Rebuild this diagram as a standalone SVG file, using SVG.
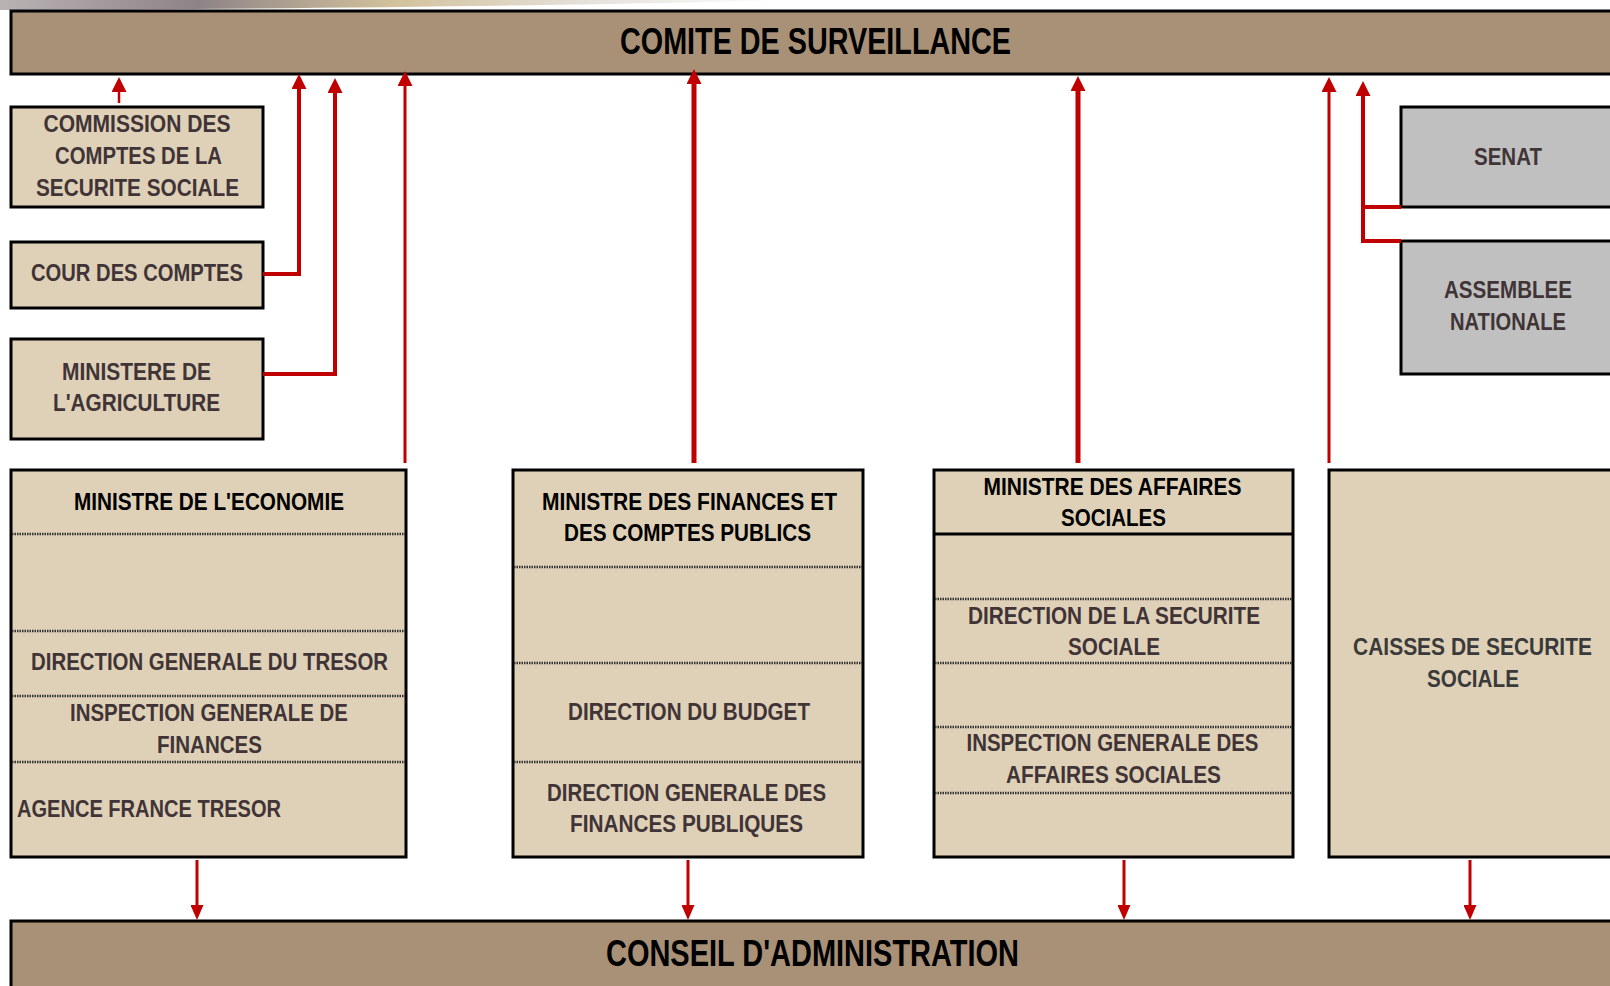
<svg xmlns="http://www.w3.org/2000/svg" width="1610" height="986" viewBox="0 0 1610 986">
<defs>
<linearGradient id="swoosh" x1="0" y1="0" x2="1" y2="0">
<stop offset="0" stop-color="#b9b3b4"/>
<stop offset="0.25" stop-color="#8e8386"/>
<stop offset="0.5" stop-color="#d2c29c"/>
<stop offset="0.75" stop-color="#e6e2dc"/>
<stop offset="1" stop-color="#ffffff"/>
</linearGradient>
<marker id="ah" viewBox="0 0 15 15" refX="0" refY="7.5" markerUnits="userSpaceOnUse" markerWidth="15" markerHeight="15" orient="auto">
<path d="M0,0 L15,7.5 L0,15 z" fill="#C00000"/>
</marker>
<marker id="ahd" viewBox="0 0 15 13" refX="0" refY="6.5" markerUnits="userSpaceOnUse" markerWidth="15" markerHeight="13" orient="auto">
<path d="M0,0 L15,6.5 L0,13 z" fill="#C00000"/>
</marker>
</defs>
<style>
.bar{fill:#A89177;stroke:#000;stroke-width:3}
.box{fill:#DFD1B8;stroke:#000;stroke-width:3}
.gbox{fill:#C0C0C0;stroke:#000;stroke-width:3}
.div{stroke:#333;stroke-width:2.5;stroke-dasharray:1.5 1}
.sol{stroke:#000;stroke-width:3}
text{font-family:"Liberation Sans",Arial,sans-serif;font-weight:bold;text-anchor:middle}
.t{font-size:23px;fill:#413437}
.h{font-size:23px;fill:#000}
.c{font-size:23px;fill:#3a3a3a}
.title{font-size:36px;fill:#000}
.cn path{fill:none;stroke:#C00000}
</style>
<rect width="1610" height="986" fill="#fff"/>
<path d="M0,0 H790 C600,5 300,9 0,10 Z" fill="url(#swoosh)"/>

<g id="comite">
<rect class="bar" x="11" y="11" width="1620" height="63"/>
<text class="title" x="815.5" y="54" textLength="391" lengthAdjust="spacingAndGlyphs">COMITE DE SURVEILLANCE</text>
</g>

<g id="conseil">
<rect class="bar" x="11" y="921" width="1620" height="90"/>
<text class="title" x="812.5" y="966" textLength="413" lengthAdjust="spacingAndGlyphs">CONSEIL D'ADMINISTRATION</text>
</g>

<g id="commission">
<rect class="box" x="11" y="107" width="252" height="100"/>
<text class="t" x="137" y="132" textLength="187" lengthAdjust="spacingAndGlyphs">COMMISSION DES</text>
<text class="t" x="138.5" y="164" textLength="167" lengthAdjust="spacingAndGlyphs">COMPTES DE LA</text>
<text class="t" x="137.5" y="196" textLength="203" lengthAdjust="spacingAndGlyphs">SECURITE SOCIALE</text>
</g>

<g id="cour">
<rect class="box" x="11" y="242" width="252" height="66"/>
<text class="t" x="137" y="281" textLength="212" lengthAdjust="spacingAndGlyphs">COUR DES COMPTES</text>
</g>

<g id="agriculture">
<rect class="box" x="11" y="339" width="252" height="100"/>
<text class="t" x="136.5" y="380" textLength="149" lengthAdjust="spacingAndGlyphs">MINISTERE DE</text>
<text class="t" x="136.5" y="411" textLength="167" lengthAdjust="spacingAndGlyphs">L'AGRICULTURE</text>
</g>

<g id="senat">
<rect class="gbox" x="1401" y="107" width="230" height="100"/>
<text class="t" x="1508" y="165" textLength="68" lengthAdjust="spacingAndGlyphs">SENAT</text>
</g>

<g id="assemblee">
<rect class="gbox" x="1401" y="241" width="230" height="133"/>
<text class="t" x="1508" y="298" textLength="128" lengthAdjust="spacingAndGlyphs">ASSEMBLEE</text>
<text class="t" x="1508" y="330" textLength="116" lengthAdjust="spacingAndGlyphs">NATIONALE</text>
</g>

<g id="economie">
<rect class="box" x="11" y="470" width="395" height="387"/>
<line class="div" x1="12" y1="534" x2="405" y2="534"/>
<line class="div" x1="12" y1="631" x2="405" y2="631"/>
<line class="div" x1="12" y1="696" x2="405" y2="696"/>
<line class="div" x1="12" y1="762" x2="405" y2="762"/>
<text class="h" x="209" y="510" textLength="270" lengthAdjust="spacingAndGlyphs">MINISTRE DE L'ECONOMIE</text>
<text class="t" x="209.5" y="670" textLength="357" lengthAdjust="spacingAndGlyphs">DIRECTION GENERALE DU TRESOR</text>
<text class="t" x="209" y="721" textLength="278" lengthAdjust="spacingAndGlyphs">INSPECTION GENERALE DE</text>
<text class="t" x="209.5" y="753" textLength="105" lengthAdjust="spacingAndGlyphs">FINANCES</text>
<text class="t" x="17" y="817" style="text-anchor:start" textLength="264" lengthAdjust="spacingAndGlyphs">AGENCE FRANCE TRESOR</text>
</g>

<g id="finances">
<rect class="box" x="513" y="470" width="350" height="387"/>
<line class="div" x1="514" y1="567" x2="862" y2="567"/>
<line class="div" x1="514" y1="663" x2="862" y2="663"/>
<line class="div" x1="514" y1="762" x2="862" y2="762"/>
<text class="h" x="689.5" y="510" textLength="295" lengthAdjust="spacingAndGlyphs">MINISTRE DES FINANCES ET</text>
<text class="h" x="687.5" y="541" textLength="247" lengthAdjust="spacingAndGlyphs">DES COMPTES PUBLICS</text>
<text class="t" x="689" y="720" textLength="242" lengthAdjust="spacingAndGlyphs">DIRECTION DU BUDGET</text>
<text class="t" x="686.5" y="801" textLength="279" lengthAdjust="spacingAndGlyphs">DIRECTION GENERALE DES</text>
<text class="t" x="686.5" y="832" textLength="233" lengthAdjust="spacingAndGlyphs">FINANCES PUBLIQUES</text>
</g>

<g id="affaires">
<rect class="box" x="934" y="470" width="359" height="387"/>
<line class="sol" x1="935" y1="534" x2="1292" y2="534"/>
<line class="div" x1="935" y1="599" x2="1292" y2="599"/>
<line class="div" x1="935" y1="663" x2="1292" y2="663"/>
<line class="div" x1="935" y1="727" x2="1292" y2="727"/>
<line class="div" x1="935" y1="793" x2="1292" y2="793"/>
<text class="h" x="1112.5" y="495" textLength="258" lengthAdjust="spacingAndGlyphs">MINISTRE DES AFFAIRES</text>
<text class="h" x="1113.5" y="526" textLength="105" lengthAdjust="spacingAndGlyphs">SOCIALES</text>
<text class="t" x="1114" y="624" textLength="292" lengthAdjust="spacingAndGlyphs">DIRECTION DE LA SECURITE</text>
<text class="t" x="1114" y="655" textLength="92" lengthAdjust="spacingAndGlyphs">SOCIALE</text>
<text class="t" x="1112.5" y="751" textLength="292" lengthAdjust="spacingAndGlyphs">INSPECTION GENERALE DES</text>
<text class="t" x="1113.5" y="783" textLength="215" lengthAdjust="spacingAndGlyphs">AFFAIRES SOCIALES</text>
</g>

<g id="caisses">
<rect class="box" x="1329" y="470" width="300" height="387"/>
<text class="c" x="1472.5" y="655" textLength="239" lengthAdjust="spacingAndGlyphs">CAISSES DE SECURITE</text>
<text class="c" x="1473" y="687" textLength="92" lengthAdjust="spacingAndGlyphs">SOCIALE</text>
</g>

<g id="connectors" class="cn">
<path d="M119,103 V92" stroke-width="2.5" marker-end="url(#ah)"/>
<path d="M263,274 H299 V89" stroke-width="4" marker-end="url(#ah)"/>
<path d="M263,374 H335 V93" stroke-width="4" marker-end="url(#ah)"/>
<path d="M405,463 V86" stroke-width="3" marker-end="url(#ah)"/>
<path d="M694,463 V84" stroke-width="5" marker-end="url(#ah)"/>
<path d="M1078,463 V91" stroke-width="5" marker-end="url(#ah)"/>
<path d="M1329,463 V92" stroke-width="3" marker-end="url(#ah)"/>
<path d="M1401,207 H1363" stroke-width="4"/>
<path d="M1401,241 H1363 V96" stroke-width="4" marker-end="url(#ah)"/>
<path d="M197,860 V905" stroke-width="3" marker-end="url(#ahd)"/>
<path d="M688,860 V905" stroke-width="3" marker-end="url(#ahd)"/>
<path d="M1124,860 V905" stroke-width="3" marker-end="url(#ahd)"/>
<path d="M1470,860 V905" stroke-width="3" marker-end="url(#ahd)"/>
</g>
</svg>
